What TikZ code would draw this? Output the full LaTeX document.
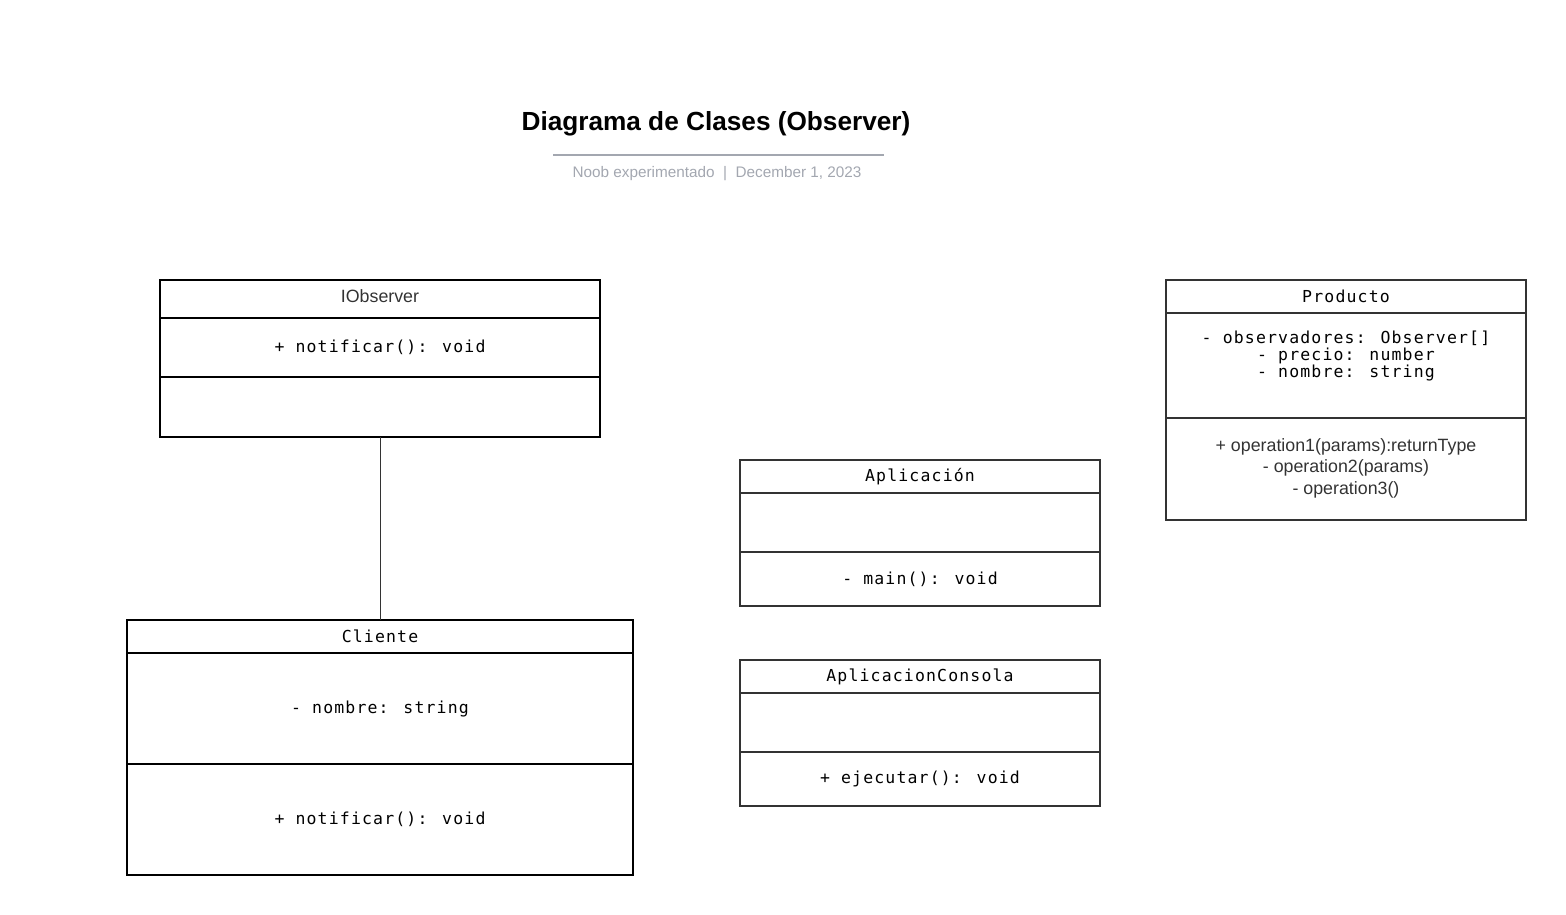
\documentclass[tikz,border=0pt]{standalone}
\usepackage{fontspec}
\setmainfont{Liberation Sans}
\newfontfamily\monof[LetterSpace=7]{DejaVu Sans Mono}
\definecolor{dk}{HTML}{333333}
\definecolor{sub}{HTML}{A3A7B0}
\begin{document}
\begin{tikzpicture}[x=1pt,y=-1pt,
  comp/.style={draw, rectangle, inner sep=0pt, outer sep=0pt, anchor=north west, line width=2pt, align=center, font=\monof\fontsize{16.5}{17}\selectfont},
  blk/.style={comp, draw=black},
  gry/.style={comp, draw=dk},
  lbl/.style={inner sep=0pt, align=center, font=\monof\fontsize{16.5}{17}\selectfont},
  sanslbl/.style={inner sep=0pt, align=center, text=dk, font=\fontsize{17.8}{21.5}\selectfont},
  link/.style={draw=dk, line width=1pt}]
\useasboundingbox (0,0) rectangle (1566,915);

% title
\node[inner sep=0pt, font=\bfseries\fontsize{26.2}{30}\selectfont] (title) at (716,124) {Diagrama de Clases (Observer)};
\coordinate (rl) at (553,155);
\coordinate (rr) at (884,155);
\draw[draw=sub, line width=2pt] (rl) -- (rr);
\node[inner sep=0pt, text=sub, font=\fontsize{15.3}{17}\selectfont] (subt) at (717,174) {Noob experimentado~~|~~December 1, 2023};

% IObserver
\node[blk, minimum width=440, minimum height=38] (io-h) at (160,280) {};
\node[sanslbl] (io-t) at ([yshift=2.5pt]io-h.center) {IObserver};
\node[blk, minimum width=440, minimum height=59] (io-a) at (io-h.south west) {+ notificar(): void};
\node[blk, minimum width=440, minimum height=60] (io-o) at (io-a.south west) {};

% Cliente
\node[blk, minimum width=506, minimum height=33] (cl-h) at (127,620) {Cliente};
\node[blk, minimum width=506, minimum height=111] (cl-a) at (cl-h.south west) {- nombre: string};
\node[blk, minimum width=506, minimum height=111] (cl-o) at (cl-a.south west) {+ notificar(): void};

\draw[link] (io-o.south) -- (cl-h.north);

% Aplicacion
\node[gry, minimum width=360, minimum height=33] (ap-h) at (740,460) {Aplicación};
\node[gry, minimum width=360, minimum height=59] (ap-a) at (ap-h.south west) {};
\node[gry, minimum width=360, minimum height=54] (ap-o) at (ap-a.south west) {- main(): void};

% AplicacionConsola
\node[gry, minimum width=360, minimum height=33] (ac-h) at (740,660) {AplicacionConsola};
\node[gry, minimum width=360, minimum height=59] (ac-a) at (ac-h.south west) {};
\node[gry, minimum width=360, minimum height=54] (ac-o) at (ac-a.south west) {+ ejecutar(): void};

% Producto
\node[gry, minimum width=360, minimum height=33] (pr-h) at (1166,280) {Producto};
\node[gry, minimum width=360, minimum height=105] (pr-a) at (pr-h.south west) {};
\node[lbl] (pr-at) at (1346,356) {- observadores: Observer[]\\- precio: number\\- nombre: string};
\node[gry, minimum width=360, minimum height=102] (pr-o) at (pr-a.south west) {};
\node[sanslbl] (pr-ot) at ([yshift=1pt]pr-o.center) {+ operation1(params):returnType\\- operation2(params)\\- operation3()};
\end{tikzpicture}
\end{document}
